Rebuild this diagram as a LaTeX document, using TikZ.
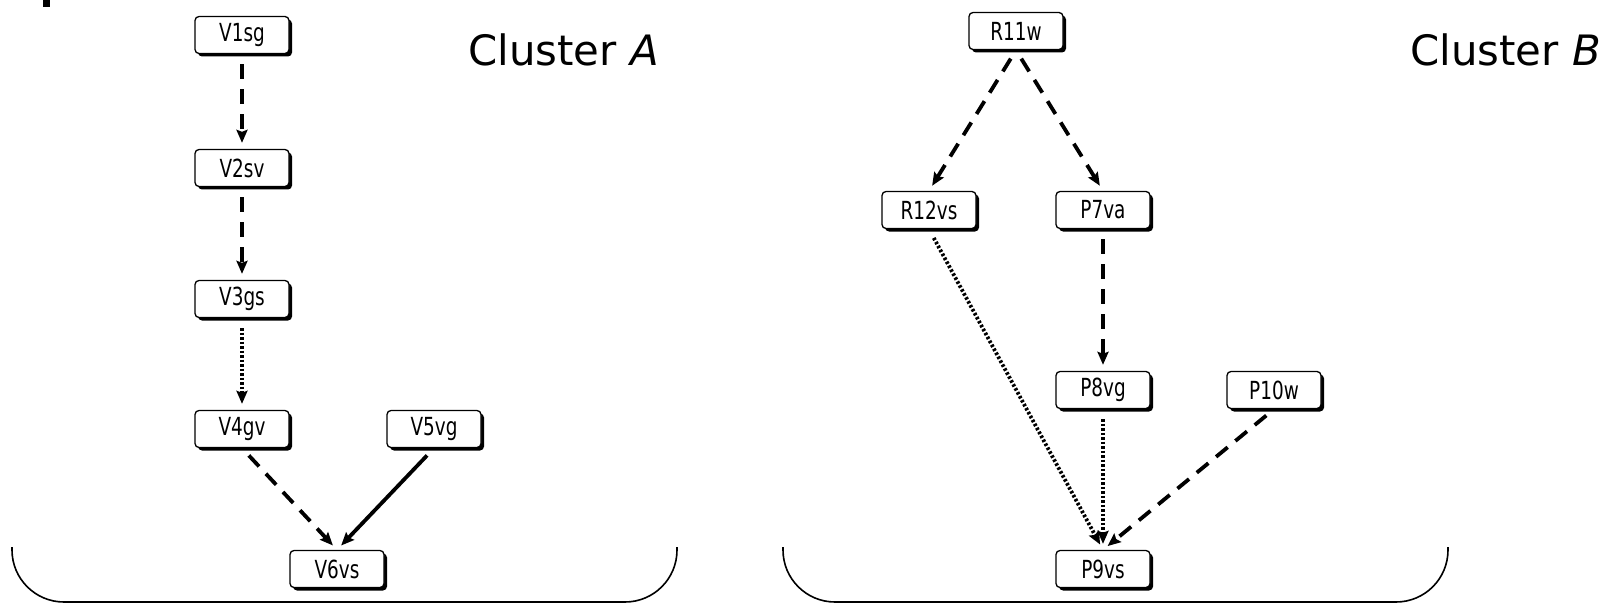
\documentclass[tikz,border=0pt]{standalone}
\usepackage{graphicx}
\usepackage{fontspec}
\setmainfont{DejaVu Sans}
\usetikzlibrary{arrows.meta,shadows}
\newcommand\boxtxt[1]{\scalebox{0.74}[1]{#1}}
\begin{document}
\begin{tikzpicture}[x=1bp,y=-1bp,
  box/.style={draw=black, line width=1.3bp, fill=white, rounded corners=4bp,
    minimum width=94bp, minimum height=37bp, inner sep=0pt,
    font=\fontsize{25}{25}\selectfont,
    drop shadow={shadow xshift=3bp, shadow yshift=-3bp, fill=black, opacity=1}},
  conn/.style={line width=3.8bp, -{Stealth[length=13bp,width=11bp,inset=2bp]},
    shorten <=10bp, shorten >=6bp},
  dsh/.style={conn, dash pattern=on 15bp off 10bp},
  dtt/.style={conn, dash pattern=on 2.5bp off 2bp},
  sld/.style={conn},
  cl/.style={font=\fontsize{42}{42}\selectfont, anchor=base west, inner sep=0pt},
  brk/.style={line width=1.6bp, rounded corners=52bp}
]
\useasboundingbox (0,0) rectangle (1611,603);
\fill (43,0) rectangle (50,7);

% Cluster A
\node[box] (v1) at (242,35) {\boxtxt{V1sg}};
\node[box] (v2) at (242,168) {\boxtxt{V2sv}};
\node[box] (v3) at (242,299) {\boxtxt{V3gs}};
\node[box] (v4) at (242,429) {\boxtxt{V4gv}};
\node[box] (v5) at (434,429) {\boxtxt{V5vg}};
\node[box] (v6) at (337,569) {\boxtxt{V6vs}};
\node[cl] (ca) at (468,66) {Cluster \textit{A}};

\draw[dsh] (v1.south) -- (v2.north);
\draw[dsh] (v2.south) -- (v3.north);
\draw[dtt] (v3.south) -- (v4.north);
\draw[dsh] (v4.south) -- (v6.north);
\draw[sld] (v5.south) -- (v6.north);

% Cluster B
\node[box] (r11) at (1016,31) {\boxtxt{R11w}};
\node[box] (r12) at (929,210) {\boxtxt{R12vs}};
\node[box] (p7) at (1103,210) {\boxtxt{P7va}};
\node[box] (p8) at (1103,390) {\boxtxt{P8vg}};
\node[box] (p10) at (1274,390) {\boxtxt{P10w}};
\node[box] (p9) at (1103,569) {\boxtxt{P9vs}};
\node[cl] (cb) at (1410,66) {Cluster \textit{B}};

\draw[dsh] (r11.south) -- (r12.north);
\draw[dsh] (r11.south) -- (p7.north);
\draw[dsh] (p7.south) -- (p8.north);
\draw[dtt] (r12.south) -- (p9.north);
\draw[dtt] (p8.south) -- (p9.north);
\draw[dsh] (p10.south) -- (p9.north);

% brackets
\draw[brk] (12,547) -- (12,602) -- (677,602) -- (677,547);
\draw[brk] (783,547) -- (783,602) -- (1448,602) -- (1448,547);
\end{tikzpicture}
\end{document}
